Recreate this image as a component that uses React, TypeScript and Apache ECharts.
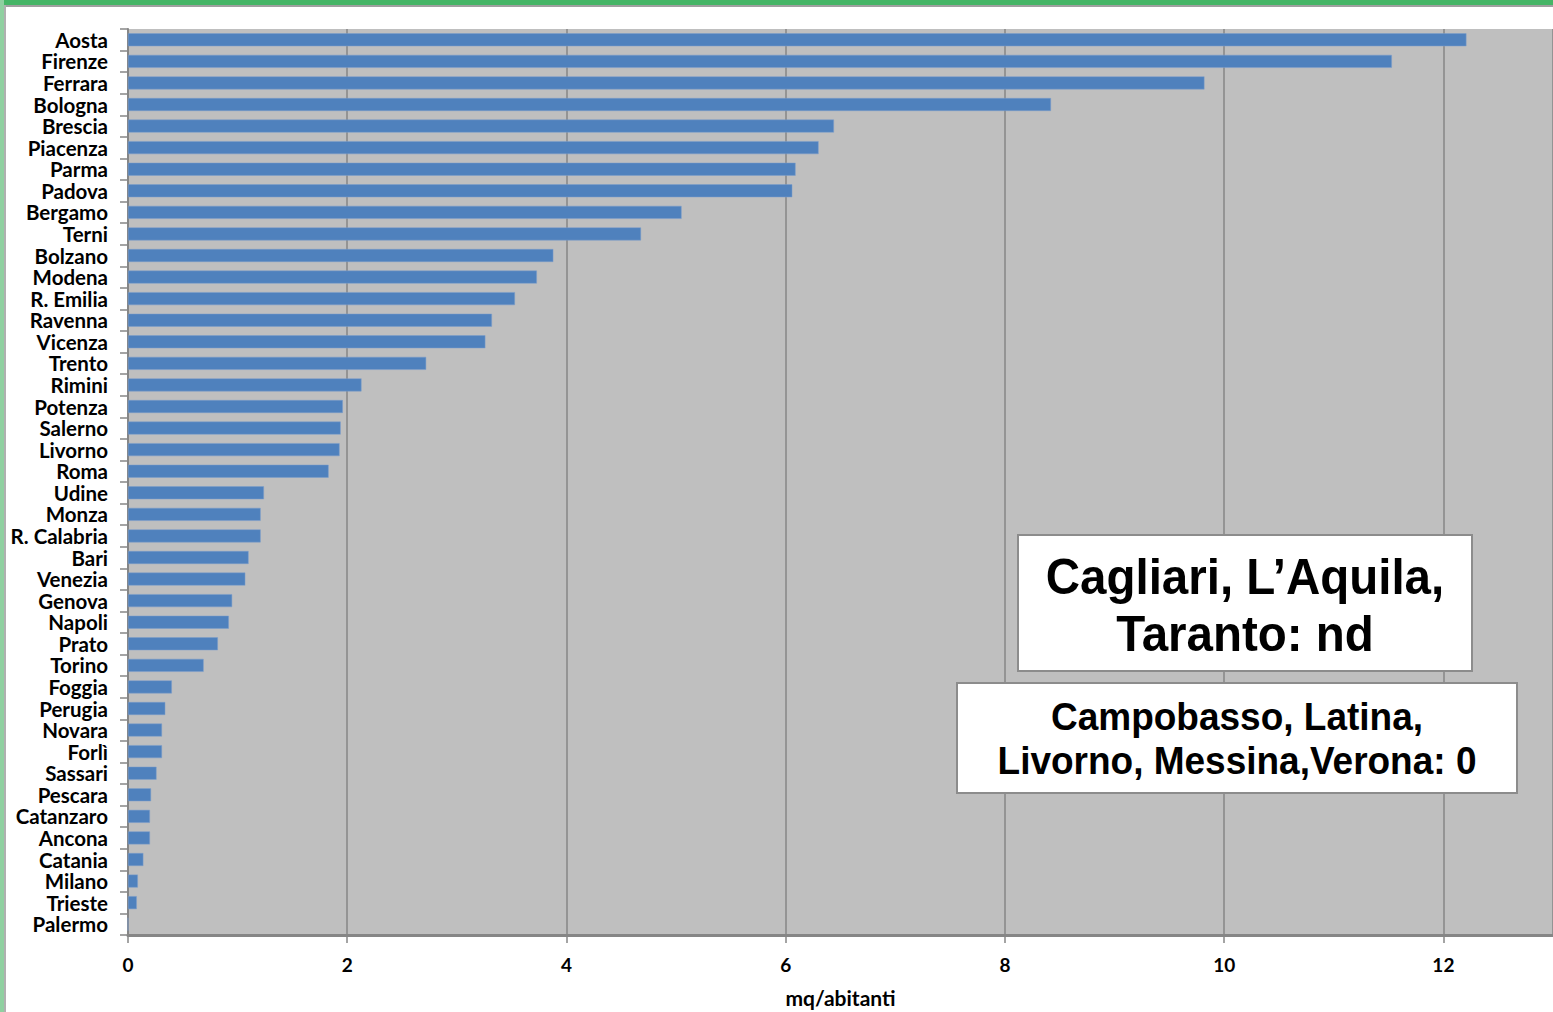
import React, { useEffect, useRef } from "react";
import * as echarts from "echarts";

const cities = [
  "Aosta", "Firenze", "Ferrara", "Bologna", "Brescia", "Piacenza", "Parma", "Padova",
  "Bergamo", "Terni", "Bolzano", "Modena", "R. Emilia", "Ravenna", "Vicenza", "Trento",
  "Rimini", "Potenza", "Salerno", "Livorno", "Roma", "Udine", "Monza", "R. Calabria",
  "Bari", "Venezia", "Genova", "Napoli", "Prato", "Torino", "Foggia", "Perugia",
  "Novara", "Forlì", "Sassari", "Pescara", "Catanzaro", "Ancona", "Catania", "Milano",
  "Trieste", "Palermo",
];

const values = [
  12.21, 11.53, 9.82, 8.42, 6.44, 6.3, 6.09, 6.06,
  5.05, 4.68, 3.88, 3.73, 3.53, 3.32, 3.26, 2.72,
  2.13, 1.96, 1.94, 1.93, 1.83, 1.24, 1.21, 1.21,
  1.1, 1.07, 0.95, 0.92, 0.82, 0.69, 0.4, 0.34,
  0.31, 0.31, 0.26, 0.21, 0.2, 0.2, 0.14, 0.09,
  0.08, 0,
];

const axisName = "mq/abitanti";
const noteNd = "Cagliari, L\u2019Aquila,\nTaranto: nd";
const noteZero = "Campobasso, Latina,\nLivorno, Messina,Verona: 0";

export default function App() {
  const ref = useRef<HTMLDivElement>(null);
  useEffect(() => {
    document.body.style.margin = "0";
    const chart = echarts.init(ref.current!, null, { renderer: "svg" });
    const labelFont = "Lato, 'Open Sans', sans-serif";
    const boxFont = "'Liberation Sans', Arial, sans-serif";
    chart.setOption({
      animation: false,
      backgroundColor: "#ffffff",
      grid: {
        left: 128,
        top: 29,
        right: 0,
        bottom: 77,
        show: true,
        backgroundColor: "#bfbfbf",
        borderWidth: 0,
        containLabel: false,
        outerBoundsMode: "none",
      },
      xAxis: {
        type: "value",
        min: 0,
        max: 13,
        interval: 2,
        name: axisName,
        nameLocation: "middle",
        nameGap: 52,
        nameTextStyle: { fontFamily: labelFont, fontWeight: "bold", fontSize: 21, color: "#000" },
        axisLine: { show: true, onZero: false, lineStyle: { color: "#868686", width: 3 } },
        axisTick: { show: true, length: 8, lineStyle: { color: "#868686", width: 1.5 } },
        axisLabel: {
          showMaxLabel: false,
          margin: 20,
          fontFamily: labelFont,
          fontWeight: "bold",
          fontSize: 19,
          color: "#000",
        },
        splitLine: { show: true, lineStyle: { color: "#868686", width: 1.5 } },
      },
      yAxis: {
        type: "category",
        data: cities,
        inverse: true,
        axisLine: { show: true, lineStyle: { color: "#868686", width: 2 } },
        axisTick: { show: true, length: 8, lineStyle: { color: "#868686", width: 1.5 } },
        axisLabel: {
          interval: 0,
          margin: 20,
          fontFamily: labelFont,
          fontWeight: "bold",
          fontSize: 20.5,
          color: "#000",
        },
        splitLine: { show: false },
      },
      series: [
        {
          type: "bar",
          data: values,
          barCategoryGap: "40%",
          itemStyle: { color: "#4f81bd", borderColor: "#7d9fcc", borderWidth: 0.5 },
        },
      ],
      graphic: [
        { type: "rect", shape: { x: 0, y: 0, width: 1553, height: 5 }, style: { fill: "#45b566" }, silent: true },
        { type: "rect", shape: { x: 0, y: 5, width: 1553, height: 2 }, style: { fill: "#a0a0a0" }, silent: true },
        { type: "rect", shape: { x: 0, y: 0, width: 4, height: 1012 }, style: { fill: "#8fd0a0" }, silent: true },
        { type: "rect", shape: { x: 4, y: 5, width: 2, height: 1007 }, style: { fill: "#b0b0b0" }, silent: true },
        {
          type: "rect",
          shape: { x: 1018, y: 535, width: 454, height: 136 },
          style: { fill: "#ffffff", stroke: "#8c8c8c", lineWidth: 2 },
          z: 100,
        },
        {
          type: "text",
          x: 1245,
          y: 605,
          z: 101,
          scaleY: 1.05,
          style: {
            text: noteNd,
            fill: "#000",
            font: "bold 47.5px " + boxFont,
            align: "center",
            verticalAlign: "middle",
            lineHeight: 54,
          },
        },
        {
          type: "rect",
          shape: { x: 957, y: 683, width: 560, height: 110 },
          style: { fill: "#ffffff", stroke: "#8c8c8c", lineWidth: 2 },
          z: 100,
        },
        {
          type: "text",
          x: 1237,
          y: 739,
          z: 101,
          scaleY: 1.05,
          style: {
            text: noteZero,
            fill: "#000",
            font: "bold 37px " + boxFont,
            align: "center",
            verticalAlign: "middle",
            lineHeight: 42,
          },
        },
      ],
    });
    return () => chart.dispose();
  }, []);
  return <div ref={ref} style={{ position: "fixed", left: 0, top: 0, width: 1553, height: 1012 }} />;
}
